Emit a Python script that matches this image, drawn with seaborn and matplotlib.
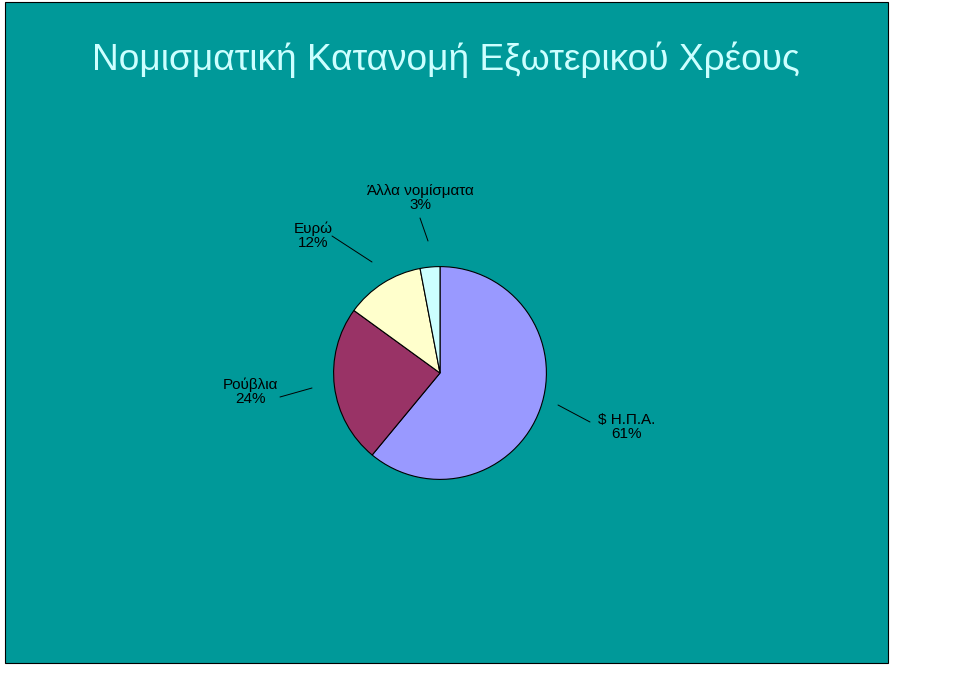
import matplotlib
matplotlib.use("Agg")
import matplotlib.pyplot as plt
import seaborn as sns
from matplotlib.patches import Rectangle

categories = ["$ Η.Π.Α.", "Ρούβλια", "Ευρώ", "Άλλα νομίσματα"]
values = [61, 24, 12, 3]
colors = ["#9999FF", "#993366", "#FFFFCC", "#CCFFFF"]

sns.set_theme(style="white")
plt.rcParams['font.family'] = ['Liberation Sans', 'DejaVu Sans']

W, H = 960, 675
fig = plt.figure(figsize=(9.6, 6.75), dpi=100)
fig.patch.set_facecolor("white")
fig.patches.append(Rectangle((5/W, 1-663/H), 883/W, 661/H, transform=fig.transFigure,
                             facecolor="#009999", edgecolor="black", lw=0.8, zorder=-5))

fig.text(92/W, 1-60/H, "Νομισματική Κατανομή Εξωτερικού Χρέους", color="#CCFFFF",
         fontsize=26.7, va="center", ha="left")

cx, cy, r = 440, 373, 133
ax = fig.add_axes([(cx-r)/W, (H-cy-r)/H, 2*r/W, 2*r/H])
ax.patch.set_alpha(0)
ax.set_zorder(5)
ax.pie(values, colors=colors, startangle=90, counterclock=False,
       wedgeprops=dict(edgecolor="black", linewidth=0.8))
ax.set_aspect("equal")
ax.axis("off")

labels = [
    (f"{categories[0]}\n{values[0]}%", (627, 427), (590, 422), (558, 405)),
    (f"{categories[1]}\n{values[1]}%", (250, 392), (280, 397), (312, 388)),
    (f"{categories[2]}\n{values[2]}%", (313, 236), (332, 236), (372, 262)),
    (f"{categories[3]}\n{values[3]}%", (420, 198), (420, 218), (428, 241)),
]
for txt, (tx, ty), (lx, ly), (px, py) in labels:
    fig.text(tx/W, 1-ty/H, txt, ha="center", va="center", fontsize=11,
             color="black", linespacing=1.0)
    fig.add_artist(plt.Line2D([lx/W, px/W], [1-ly/H, 1-py/H], color="black", lw=0.7))

fig.savefig("out.png", dpi=100)
